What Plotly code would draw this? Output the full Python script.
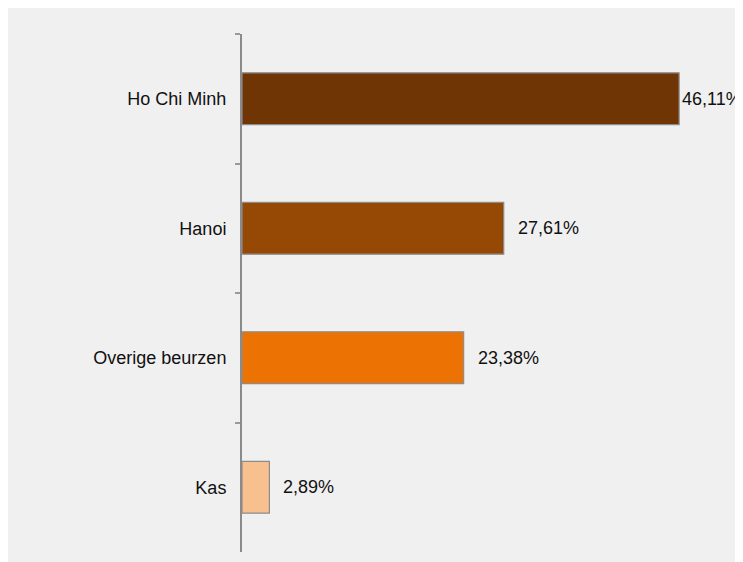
import plotly.graph_objects as go

categories = ["Ho Chi Minh", "Hanoi", "Overige beurzen", "Kas"]
values = [46.11, 27.61, 23.38, 2.89]
value_labels = ["46,11%", "27,61%", "23,38%", "2,89%"]
colors = ["#6f3505", "#964805", "#ec7203", "#f9c08f"]
label_shift = [1, 12, 12, 12]

# page body has an 8px margin, so the figure starts at (8, 8)
W, H = 735, 554
L, R, T, B = 234, 27, 26, 10

fig = go.Figure()
fig.add_trace(go.Bar(
    y=categories, x=values, orientation="h",
    marker=dict(color=colors, line=dict(color="#8c8c8c", width=1.2)),
    width=0.4, hoverinfo="skip",
))

for c, v, t, s in zip(categories, values, value_labels, label_shift):
    fig.add_annotation(x=v, y=c, text=t, showarrow=False, xanchor="left",
                       xshift=s, font=dict(size=18, color="#111111"))

fig.update_layout(
    width=W, height=H,
    margin=dict(l=L, r=R, t=T, b=B),
    paper_bgcolor="#f0f0f0", plot_bgcolor="#f0f0f0",
    showlegend=False,
    font=dict(family="Liberation Sans, Arial, sans-serif", size=18, color="#111111"),
    xaxis=dict(range=[0, 50], visible=False),
    yaxis=dict(autorange="reversed", showline=True, linecolor="#8a8a8a", linewidth=2,
               ticks="outside", ticklen=5, tickcolor="#9a9a9a", tickwidth=1.5,
               tickson="boundaries", showgrid=False, zeroline=False,
               ticklabelstandoff=10, tickfont=dict(size=18, color="#111111")),
)

fig.write_html("out.html")
